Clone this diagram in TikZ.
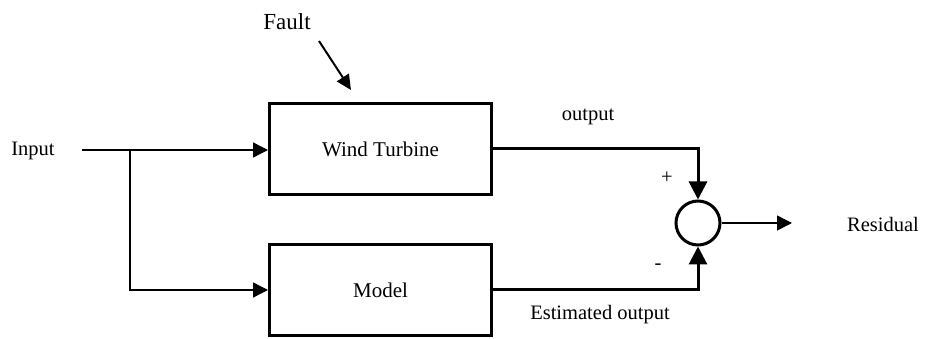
\documentclass[tikz,border=0pt]{standalone}
\usepackage{fontspec}
\setmainfont{Liberation Serif}
\usetikzlibrary{arrows.meta}
\begin{document}
\begin{tikzpicture}[x=1pt,y=-1pt,
  blk/.style={draw,line width=3pt,minimum width=222pt,minimum height=91pt,inner sep=0pt,font=\fontsize{21}{25}\selectfont},
  lbl/.style={inner sep=0pt,font=\fontsize{20.5}{24}\selectfont},
  sumnode/.style={draw,circle,line width=3pt,minimum size=44pt,inner sep=0pt},
  thinar/.style={line width=1.4pt,-{Triangle[length=15pt,width=15pt]}},
  thickar/.style={line width=3pt,-{Triangle[length=18pt,width=18pt]}}]
\useasboundingbox (0,0) rectangle (930,339);
\node[blk] (wt) at (380.5,149) {Wind Turbine};
\node[blk] (model) at (380.5,290) {Model};
\node[sumnode] (sum) at (698,223) {};
\node[lbl] (input) at (33,151) {Input};
\node[lbl,font=\fontsize{23}{27}\selectfont] (fault) at (287,22) {Fault};
\node[lbl] (out) at (588,117) {output};
\node[lbl] (est) at (600,315) {Estimated output};
\node[lbl] (res) at (883,224) {Residual};
\node[lbl] (plus) at (667,178) {+};
\node[lbl] (minus) at (658,267) {-};
\coordinate (start) at (82,150);
\coordinate (branch) at (130,150);
\coordinate (resend) at (792,223);
\coordinate (fs) at (319,41);
\coordinate (fe) at (351,90);
\draw[thinar] (start) -- (wt.west |- start);
\draw[thinar] (branch) |- (model.west);
\draw[thickar] (wt.east) -| (sum.north);
\draw[thickar] (model.east) -| (sum.south);
\draw[thinar] (sum.east) -- (resend);
\draw[line width=2pt,-{Triangle[length=15pt,width=14pt]}] (fs) -- (fe);
\end{tikzpicture}
\end{document}
